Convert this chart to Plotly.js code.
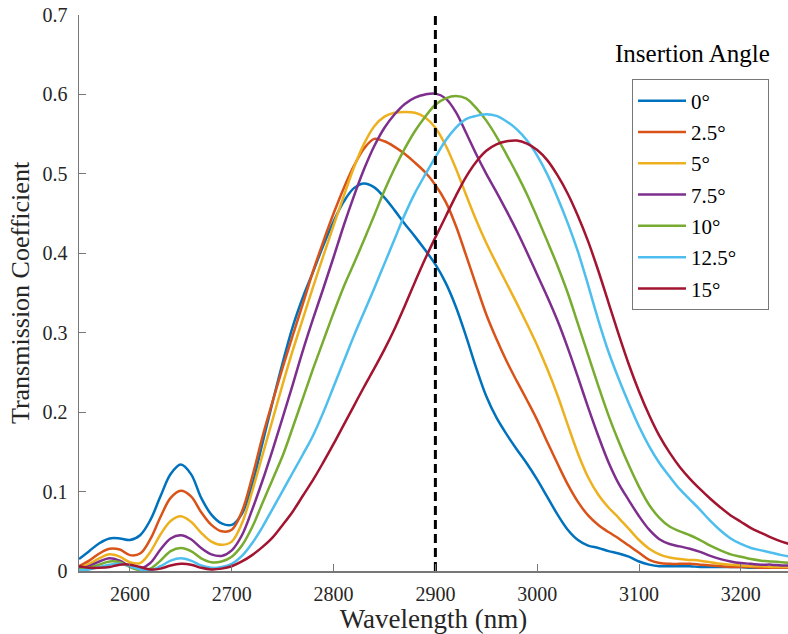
<!DOCTYPE html>
<html>
<head>
<meta charset="utf-8">
<script src="https://cdn.plot.ly/plotly-3.0.1.min.js"></script>
<style>html,body{margin:0;padding:0;background:#fff;}#chart{width:788px;height:634px;}</style>
</head>
<body>
<div id="chart"></div>
<script>
var wavelength = [];
for (var w = 2550; w <= 3250; w += 10) wavelength.push(w);

var angleLabels = ["0°", "2.5°", "5°", "7.5°", "10°", "12.5°", "15°"];
var colors = ["#0072BD", "#D95319", "#EDB120", "#7E2F8E", "#77AC30", "#4DBEEE", "#A2142F"];

var t0 = [0.015,0.025,0.035,0.041,0.041,0.039,0.045,0.064,0.094,0.122,0.134,0.122,0.092,0.071,0.060,0.058,0.072,0.108,0.160,0.212,0.262,0.308,0.345,0.377,0.410,0.440,0.465,0.482,0.488,0.483,0.470,0.454,0.437,0.421,0.404,0.386,0.363,0.333,0.296,0.256,0.220,0.193,0.172,0.153,0.135,0.115,0.093,0.071,0.052,0.039,0.032,0.029,0.025,0.022,0.018,0.012,0.008,0.006,0.006,0.006,0.006,0.005,0.005,0.005,0.005,0.005,0.004,0.004,0.004,0.004,0.004];
var t25 = [0.006,0.013,0.022,0.028,0.027,0.020,0.022,0.040,0.068,0.092,0.101,0.094,0.074,0.058,0.050,0.052,0.075,0.118,0.168,0.213,0.256,0.297,0.337,0.378,0.415,0.450,0.482,0.510,0.532,0.544,0.541,0.534,0.525,0.514,0.502,0.486,0.465,0.435,0.398,0.360,0.323,0.292,0.264,0.239,0.215,0.190,0.162,0.135,0.109,0.087,0.070,0.058,0.049,0.041,0.032,0.023,0.014,0.010,0.009,0.009,0.009,0.008,0.007,0.006,0.005,0.005,0.005,0.004,0.004,0.004,0.004];
var t5 = [0.004,0.009,0.016,0.021,0.018,0.011,0.010,0.024,0.046,0.063,0.069,0.062,0.048,0.037,0.033,0.037,0.060,0.100,0.145,0.190,0.235,0.278,0.318,0.358,0.397,0.435,0.472,0.508,0.538,0.560,0.572,0.577,0.578,0.577,0.571,0.558,0.536,0.507,0.474,0.442,0.413,0.387,0.362,0.337,0.311,0.284,0.254,0.221,0.184,0.148,0.118,0.096,0.080,0.067,0.053,0.039,0.028,0.021,0.017,0.015,0.014,0.013,0.011,0.009,0.008,0.007,0.006,0.006,0.005,0.005,0.005];
var t75 = [0.003,0.006,0.012,0.016,0.013,0.006,0.003,0.010,0.027,0.041,0.045,0.040,0.029,0.021,0.019,0.026,0.045,0.077,0.113,0.152,0.193,0.235,0.278,0.318,0.356,0.395,0.435,0.472,0.506,0.535,0.558,0.575,0.588,0.596,0.600,0.601,0.595,0.578,0.552,0.525,0.500,0.477,0.453,0.428,0.401,0.373,0.345,0.315,0.281,0.244,0.206,0.170,0.137,0.110,0.089,0.069,0.052,0.040,0.034,0.031,0.028,0.024,0.019,0.015,0.012,0.010,0.009,0.008,0.008,0.007,0.007];
var t10 = [0.002,0.004,0.008,0.012,0.011,0.005,0.001,0.003,0.013,0.025,0.029,0.025,0.016,0.011,0.012,0.018,0.032,0.055,0.085,0.115,0.145,0.181,0.218,0.255,0.290,0.325,0.358,0.387,0.417,0.448,0.479,0.507,0.532,0.554,0.572,0.587,0.595,0.598,0.595,0.583,0.567,0.547,0.524,0.500,0.474,0.445,0.415,0.384,0.350,0.311,0.272,0.233,0.196,0.163,0.133,0.106,0.083,0.067,0.056,0.050,0.045,0.039,0.032,0.026,0.021,0.018,0.015,0.013,0.012,0.011,0.010];
var t125 = [0.001,0.002,0.005,0.008,0.009,0.006,0.002,0.001,0.006,0.013,0.016,0.013,0.007,0.004,0.005,0.009,0.019,0.035,0.055,0.078,0.101,0.124,0.147,0.171,0.200,0.232,0.264,0.296,0.326,0.356,0.387,0.418,0.449,0.476,0.499,0.521,0.542,0.558,0.569,0.573,0.575,0.573,0.566,0.556,0.542,0.523,0.499,0.470,0.438,0.402,0.360,0.316,0.276,0.242,0.211,0.182,0.157,0.136,0.119,0.103,0.090,0.077,0.063,0.051,0.041,0.034,0.029,0.026,0.023,0.020,0.018];
var t15 = [0.006,0.004,0.004,0.005,0.008,0.008,0.005,0.002,0.003,0.007,0.009,0.008,0.004,0.002,0.003,0.006,0.012,0.020,0.030,0.042,0.058,0.075,0.095,0.115,0.137,0.160,0.184,0.208,0.232,0.255,0.279,0.305,0.334,0.364,0.393,0.420,0.446,0.472,0.496,0.515,0.529,0.537,0.541,0.542,0.538,0.530,0.517,0.498,0.475,0.447,0.415,0.378,0.338,0.298,0.260,0.226,0.196,0.170,0.149,0.131,0.116,0.103,0.091,0.080,0.070,0.062,0.054,0.048,0.042,0.037,0.033];

var series = [t0, t25, t5, t75, t10, t125, t15];

var refX = [2900, 2900];
var refY = [0, 0.7];

var FONT = "Liberation Serif, Times New Roman, serif";

var traces = series.map(function (s, i) {
  return {
    x: wavelength, y: s, type: "scatter", mode: "lines",
    name: angleLabels[i] + "\u00a0\u00a0\u00a0\u00a0\u00a0", legendgroup: "g" + i,
    line: {color: colors[i], width: 2.5, shape: "spline", smoothing: 1},
    hoverinfo: "skip"
  };
});
traces.push({
  x: refX, y: refY, type: "scatter", mode: "lines", showlegend: false,
  line: {color: "#000", width: 3, dash: "9px,5px"}, hoverinfo: "skip"
});

var layout = {
  width: 788, height: 634,
  margin: {l: 79, r: 0, t: 15, b: 63, pad: 0},
  paper_bgcolor: "#fff", plot_bgcolor: "#fff",
  font: {family: FONT, color: "#262626", size: 20},
  showlegend: true,
  xaxis: {
    range: [2550, 3246.3], tickvals: [2600, 2700, 2800, 2900, 3000, 3100, 3200],
    ticks: "inside", ticklen: 7, tickcolor: "#777", tickwidth: 1,
    showline: true, linecolor: "#777", linewidth: 1.5, showgrid: false, zeroline: false,
    tickfont: {family: FONT, size: 20, color: "#262626"}, ticklabelstandoff: 4,
    title: {text: "Wavelength (nm)", font: {family: FONT, size: 27, color: "#262626"}, standoff: 5}
  },
  yaxis: {
    range: [0, 0.7], tick0: 0, dtick: 0.1,
    ticks: "inside", ticklen: 7, tickcolor: "#777", tickwidth: 1,
    showline: true, linecolor: "#777", linewidth: 1.5, showgrid: false, zeroline: false,
    tickfont: {family: FONT, size: 20, color: "#262626"}, ticklabelstandoff: 6,
    title: {text: "Transmission Coefficient", font: {family: FONT, size: 26, color: "#262626"}, standoff: 5}
  },
  legend: {
    x: 0.78, y: 0.884, xanchor: "left", yanchor: "top",
    bgcolor: "#fff", bordercolor: "#777", borderwidth: 1,
    font: {family: FONT, size: 21, color: "#000"},
    tracegroupgap: 1, itemwidth: 48
  },
  annotations: [{
    text: "Insertion Angle", xref: "paper", yref: "paper",
    x: 0.8646, y: 0.93, xanchor: "center", yanchor: "middle", showarrow: false,
    font: {family: FONT, size: 25, color: "#000"}
  }]
};

Plotly.newPlot("chart", traces, layout, {displayModeBar: false, staticPlot: true});
</script>
</body>
</html>
